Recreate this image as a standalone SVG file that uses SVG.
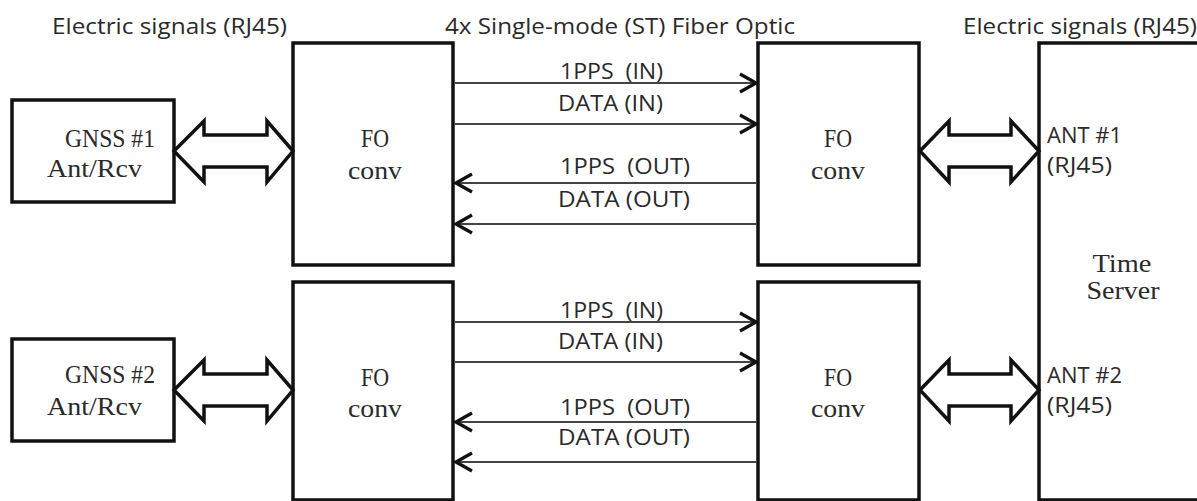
<svg xmlns="http://www.w3.org/2000/svg" width="1197" height="501" viewBox="0 0 1197 501">
<style>
.box{fill:#fff;stroke:#111;stroke-width:3.5}
.dbl{fill:#fff;stroke:#111;stroke-width:3.5;stroke-linejoin:miter}
.sig{stroke:#444;stroke-width:2.2;fill:none;marker-end:url(#chev)}
.sans{font-family:"Open Sans","Liberation Sans",sans-serif;font-size:21px;fill:#2a2a2a;white-space:pre}
.serif{font-family:"Liberation Serif","DejaVu Serif",serif;font-size:25px;fill:#2a2a2a}
</style>
<defs>
<marker id="chev" markerUnits="userSpaceOnUse" markerWidth="22" markerHeight="24" viewBox="0 0 22 24" refX="20" refY="12" orient="auto">
<path d="M3,3 L19,12 L3,21" fill="none" stroke="#111" stroke-width="3.2"/>
</marker>
</defs>
<rect width="1197" height="501" fill="#fff"/>
<g id="titles">
<text class="sans" x="52" y="34" textLength="235" lengthAdjust="spacingAndGlyphs">Electric signals (RJ45)</text>
<text class="sans" x="445" y="34" textLength="350" lengthAdjust="spacingAndGlyphs">4x Single-mode (ST) Fiber Optic</text>
<text class="sans" x="963" y="34" textLength="234" lengthAdjust="spacingAndGlyphs">Electric signals (RJ45)</text>
</g>
<g id="time-server">
<rect class="box" x="1039" y="43" width="200" height="457"/>
<text class="serif" x="1122" y="272" text-anchor="middle" textLength="59" lengthAdjust="spacingAndGlyphs">Time</text>
<text class="serif" x="1123" y="299" text-anchor="middle" textLength="73" lengthAdjust="spacingAndGlyphs">Server</text>
<text class="sans" x="1047" y="143" textLength="75" lengthAdjust="spacingAndGlyphs">ANT #1</text>
<text class="sans" x="1047" y="173" textLength="65" lengthAdjust="spacingAndGlyphs">(RJ45)</text>
<text class="sans" x="1047" y="383" textLength="75" lengthAdjust="spacingAndGlyphs">ANT #2</text>
<text class="sans" x="1047" y="413" textLength="65" lengthAdjust="spacingAndGlyphs">(RJ45)</text>
</g>
<g id="gnss1">
<rect class="box" x="12" y="100" width="162" height="102"/>
<text class="serif" x="65" y="147" textLength="90" lengthAdjust="spacingAndGlyphs">GNSS #1</text>
<text class="serif" x="47" y="177" textLength="95" lengthAdjust="spacingAndGlyphs">Ant/Rcv</text>
</g>
<g id="gnss2">
<rect class="box" x="12" y="339" width="162" height="102"/>
<text class="serif" x="65" y="383" textLength="90" lengthAdjust="spacingAndGlyphs">GNSS #2</text>
<text class="serif" x="47" y="415" textLength="95" lengthAdjust="spacingAndGlyphs">Ant/Rcv</text>
</g>
<g id="fo-left-1">
<rect class="box" x="293" y="43" width="160" height="222"/>
<text class="serif" x="375" y="147" text-anchor="middle" textLength="28" lengthAdjust="spacingAndGlyphs">FO</text>
<text class="serif" x="375" y="179" text-anchor="middle" textLength="54" lengthAdjust="spacingAndGlyphs">conv</text>
</g>
<g id="fo-right-1">
<rect class="box" x="758" y="43" width="161" height="222"/>
<text class="serif" x="838" y="147" text-anchor="middle" textLength="28" lengthAdjust="spacingAndGlyphs">FO</text>
<text class="serif" x="838" y="179" text-anchor="middle" textLength="54" lengthAdjust="spacingAndGlyphs">conv</text>
</g>
<g id="fo-left-2">
<rect class="box" x="293" y="282" width="160" height="218"/>
<text class="serif" x="375" y="386" text-anchor="middle" textLength="28" lengthAdjust="spacingAndGlyphs">FO</text>
<text class="serif" x="375" y="417" text-anchor="middle" textLength="54" lengthAdjust="spacingAndGlyphs">conv</text>
</g>
<g id="fo-right-2">
<rect class="box" x="758" y="282" width="161" height="218"/>
<text class="serif" x="838" y="386" text-anchor="middle" textLength="28" lengthAdjust="spacingAndGlyphs">FO</text>
<text class="serif" x="838" y="417" text-anchor="middle" textLength="54" lengthAdjust="spacingAndGlyphs">conv</text>
</g>
<g id="connectors">
<polygon class="dbl" points="174,151 204,121 204,135 267,135 267,121 293,151 267,182 267,167 204,167 204,182"/>
<polygon class="dbl" points="920,151 949,121 949,135 1011,135 1011,121 1039,151 1011,182 1011,167 949,167 949,182"/>
<polygon class="dbl" points="174,390 204,360 204,374 267,374 267,360 293,390 267,421 267,406 204,406 204,421"/>
<polygon class="dbl" points="920,390 949,360 949,374 1011,374 1011,360 1039,390 1011,421 1011,406 949,406 949,421"/>
<line class="sig" x1="455" y1="83" x2="757" y2="83"/>
<line class="sig" x1="455" y1="124" x2="757" y2="124"/>
<line class="sig" x1="757" y1="183" x2="455" y2="183"/>
<line class="sig" x1="757" y1="224" x2="455" y2="224"/>
<line class="sig" x1="455" y1="322" x2="757" y2="322"/>
<line class="sig" x1="455" y1="362" x2="757" y2="362"/>
<line class="sig" x1="757" y1="422" x2="455" y2="422"/>
<line class="sig" x1="757" y1="462" x2="455" y2="462"/>
<text class="sans" x="560" y="79" textLength="103" lengthAdjust="spacingAndGlyphs">1PPS  (IN)</text>
<text class="sans" x="558" y="111" textLength="105" lengthAdjust="spacingAndGlyphs">DATA (IN)</text>
<text class="sans" x="560" y="174" textLength="130" lengthAdjust="spacingAndGlyphs">1PPS  (OUT)</text>
<text class="sans" x="558" y="207" textLength="132" lengthAdjust="spacingAndGlyphs">DATA (OUT)</text>
<text class="sans" x="560" y="318" textLength="103" lengthAdjust="spacingAndGlyphs">1PPS  (IN)</text>
<text class="sans" x="558" y="349" textLength="105" lengthAdjust="spacingAndGlyphs">DATA (IN)</text>
<text class="sans" x="560" y="415" textLength="130" lengthAdjust="spacingAndGlyphs">1PPS  (OUT)</text>
<text class="sans" x="558" y="445" textLength="132" lengthAdjust="spacingAndGlyphs">DATA (OUT)</text>
</g>
</svg>
